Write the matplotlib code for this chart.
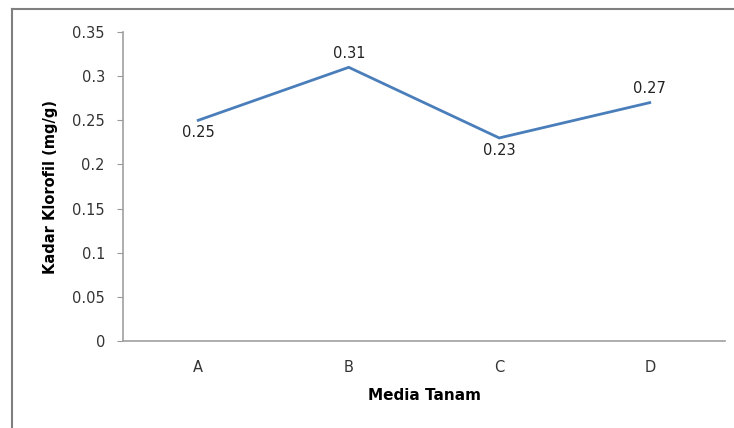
import matplotlib.pyplot as plt
from matplotlib.lines import Line2D

plt.rcParams['font.family'] = ['DejaVu Sans']

media = ['A', 'B', 'C', 'D']
klorofil = [0.25, 0.31, 0.23, 0.27]
label_pos = ['below', 'above', 'below', 'above']
y_ticks = [0, 0.05, 0.1, 0.15, 0.2, 0.25, 0.3, 0.35]

fig = plt.figure(figsize=(7.34, 4.28), dpi=100)
ax = fig.add_axes([123 / 734, 1 - 341 / 428, (725 - 123) / 734, (341 - 32) / 428])

x = list(range(len(media)))
ax.plot(x, klorofil, color='#4A7EBB', lw=2.0, solid_joinstyle='miter')

# value labels above/below each point
for xi, v, pos in zip(x, klorofil, label_pos):
    off = -9 if pos == 'below' else 10
    ax.annotate(f'{v:g}', (xi, v), xytext=(0, off), textcoords='offset points',
                ha='center', va='center', fontsize=10.5, color='#222222')

ax.set_xlim(-0.5, len(media) - 0.5)
ax.set_ylim(0, 0.35)
ax.set_xticks(x)
ax.set_xticklabels(media)
ax.set_yticks(y_ticks)
ax.set_yticklabels([f'{t:g}' for t in y_ticks])
ax.tick_params(axis='y', length=4, color='#999999', labelsize=10.5, labelcolor='#333333', pad=9)
ax.tick_params(axis='x', length=0, labelsize=10.5, labelcolor='#333333', pad=14)

for s in ['top', 'right']:
    ax.spines[s].set_visible(False)
for s in ['left', 'bottom']:
    ax.spines[s].set_color('#a0a0a0')
    ax.spines[s].set_linewidth(1.2)

ax.set_xlabel('Media Tanam', fontsize=11, fontweight='bold', labelpad=9)
ax.set_ylabel('Kadar Klorofil (mg/g)', fontsize=10.5, fontweight='bold', labelpad=10)

# outer chart border (left and top edges only)
fig.add_artist(Line2D([12 / 734, 12 / 734], [0, 1 - 9 / 428], color='#808080', lw=1.5))
fig.add_artist(Line2D([12 / 734, 1], [1 - 9 / 428, 1 - 9 / 428], color='#808080', lw=1.5))

fig.savefig('out.png', dpi=100)
